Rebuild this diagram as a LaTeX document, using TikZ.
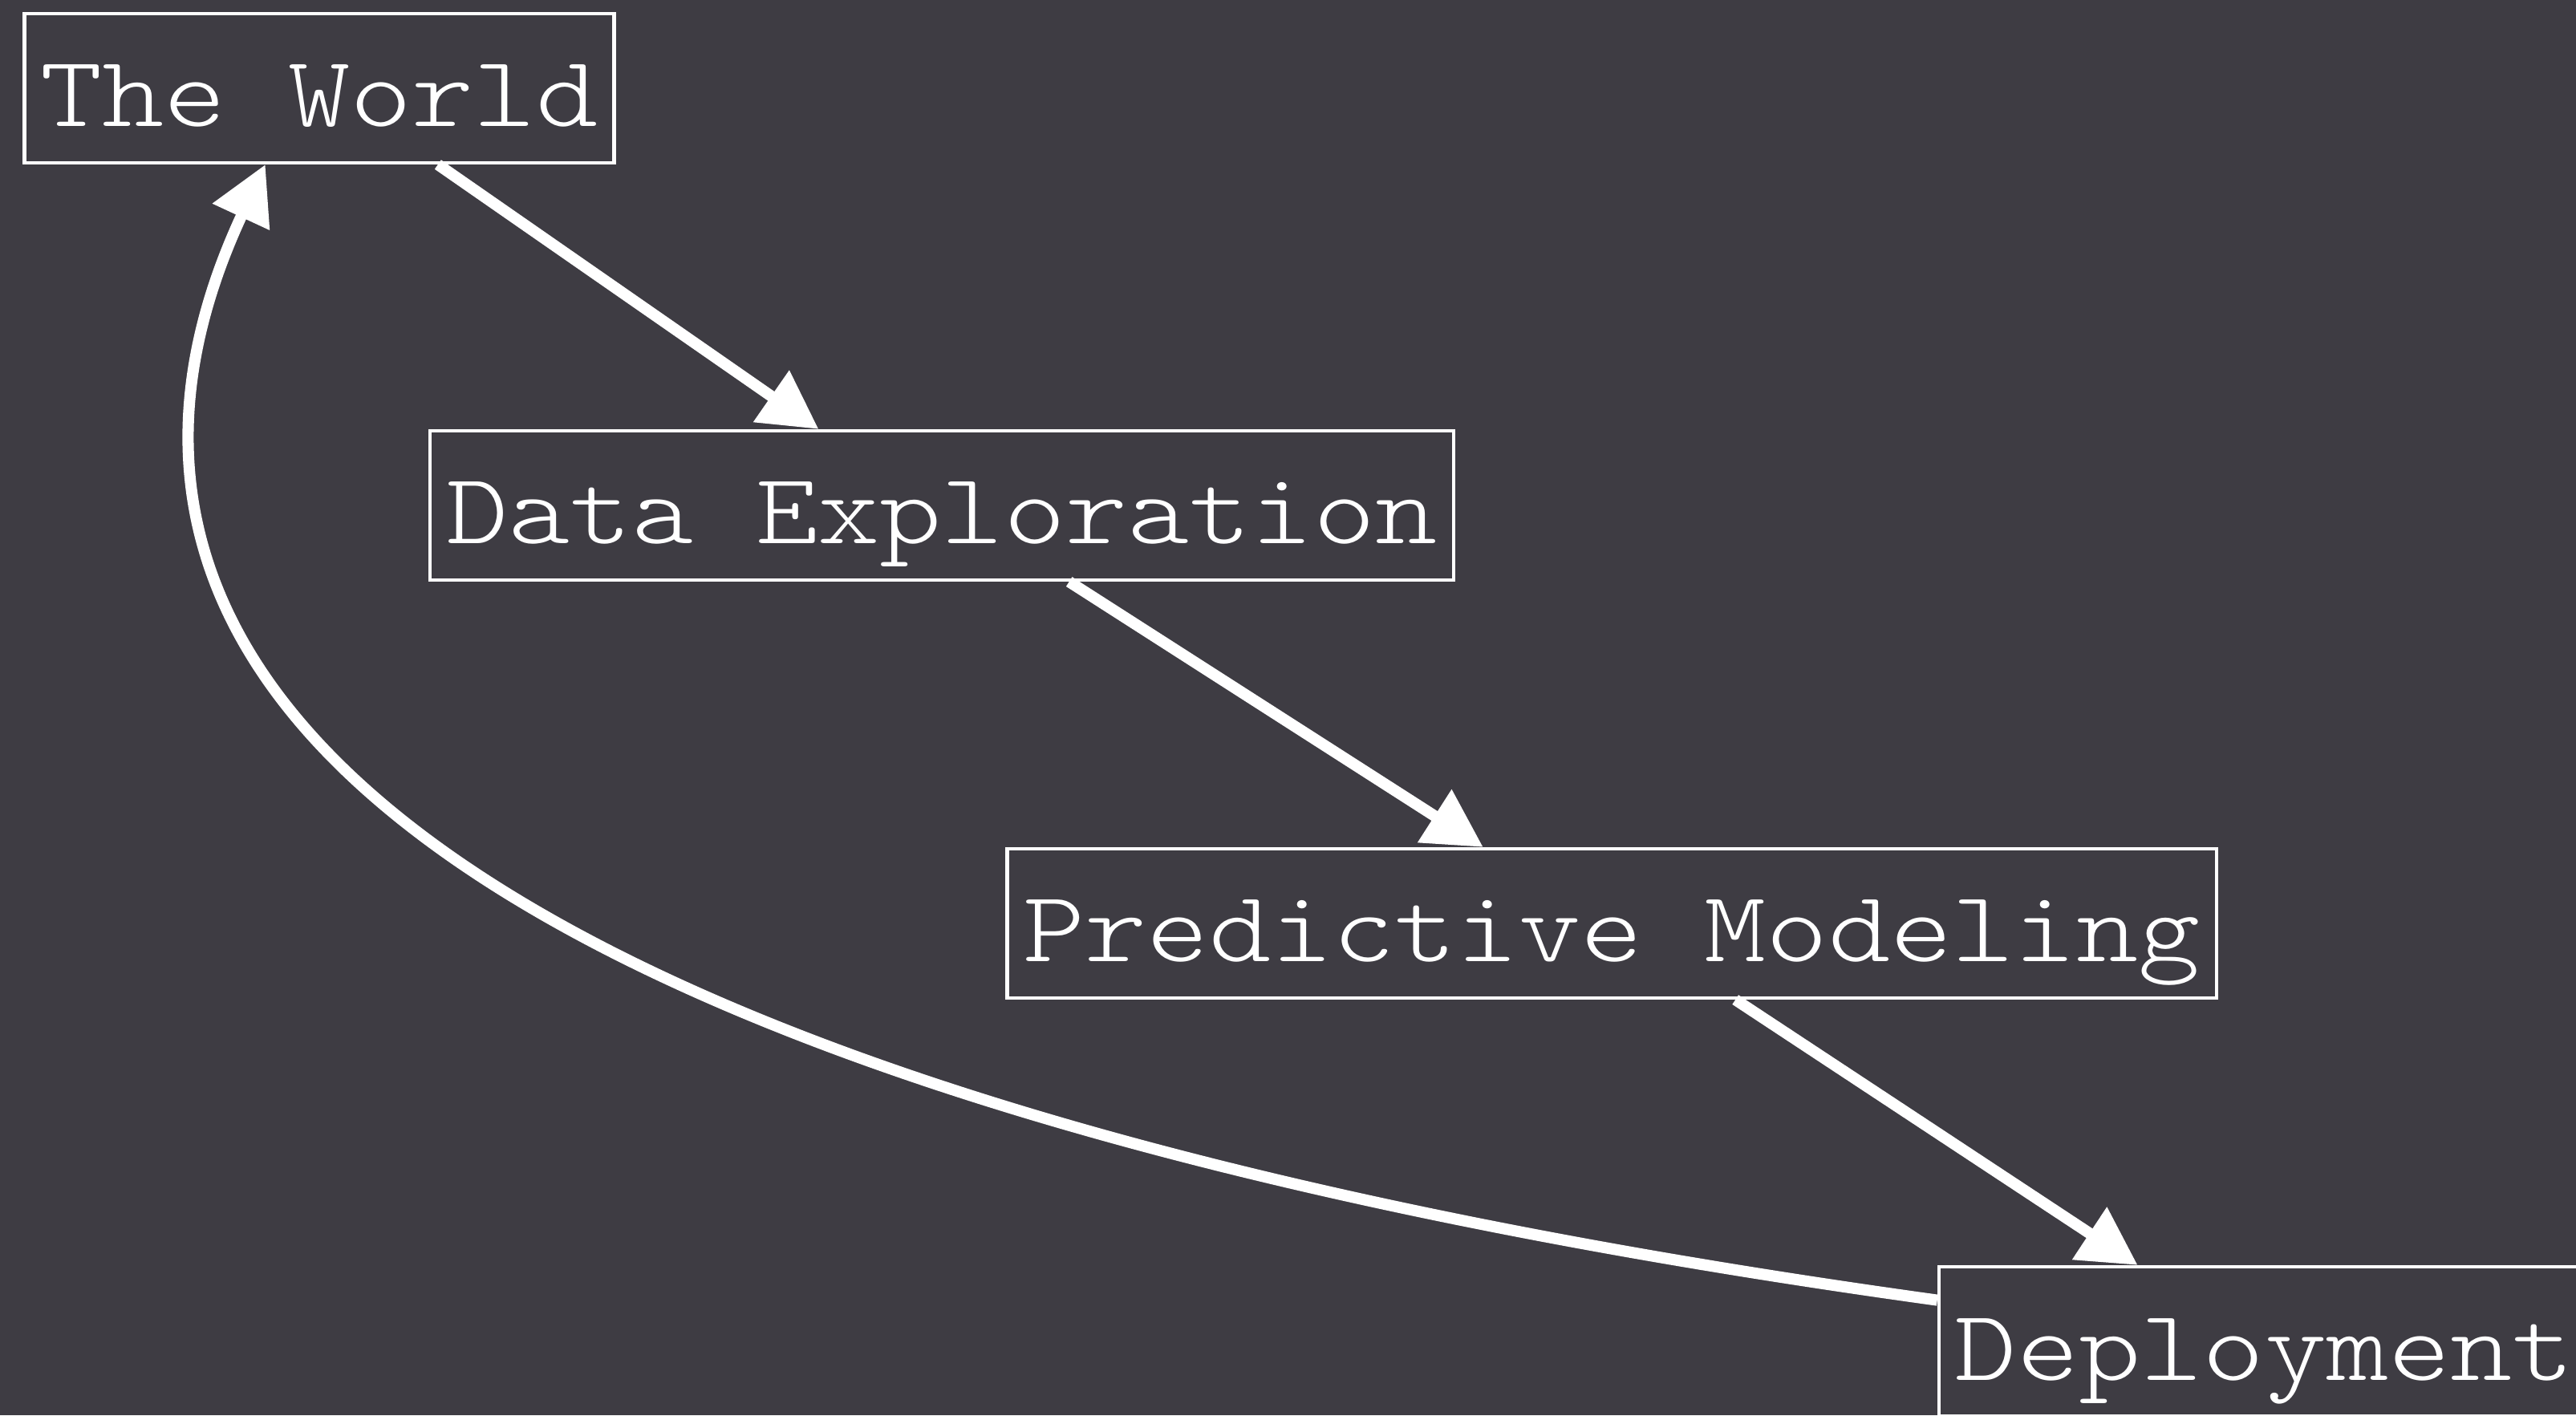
\documentclass[tikz,border=0pt]{standalone}
\usepackage{fontspec}
\setmonofont[FakeStretch=1.169]{Latin Modern Mono Light}
\usepackage{tikz}
\usetikzlibrary{arrows.meta, calc}

\definecolor{slate}{RGB}{62,60,67}

\begin{document}
\begin{tikzpicture}[line width=1pt,
    stage/.style={draw=white, line width=1.2pt, text=white, inner xsep=0.2cm, inner ysep=0pt,
        text height=1.41cm, text depth=0.45cm, font=\ttfamily\fontsize{35.8}{40}\selectfont},
    flow/.style={white, line width=4pt, -{Triangle[length=0.72cm, width=0.75cm]}}]

% background and page
\useasboundingbox (0, 0) rectangle (32.11, 17.64);
\clip (0, 0) rectangle (32.11, 17.64);
\fill[slate] (0, 0) rectangle (32.11, 17.64);

% draw the stages
\node[stage] (world) at (3.98, 16.54) {The World};
\node[stage] (data) at (11.74, 11.34) {Data Exploration};
\node[stage] (pred) at (20.09, 6.13) {Predictive Modeling};
\node[stage] (deploy) at (28.23, 0.92) {Deployment};

% draw arrows between the stages
\foreach \a/\b/\s/\e in {world/data/0.70/0.38, data/pred/0.624/0.394, pred/deploy/0.602/0.306}
{
    \draw[flow] ($(\a.south west)!\s!(\a.south east)$) -- ($(\b.north west)!\e!(\b.north east)$);
}

% draw the loop back
\draw[flow] ($(deploy.north west)!0.23!(deploy.south west)$)
    .. controls (15.00, 2.70) and (-1.15, 6.00) .. ($(world.south west)!0.409!(world.south east)$);

\end{tikzpicture}
\end{document}
